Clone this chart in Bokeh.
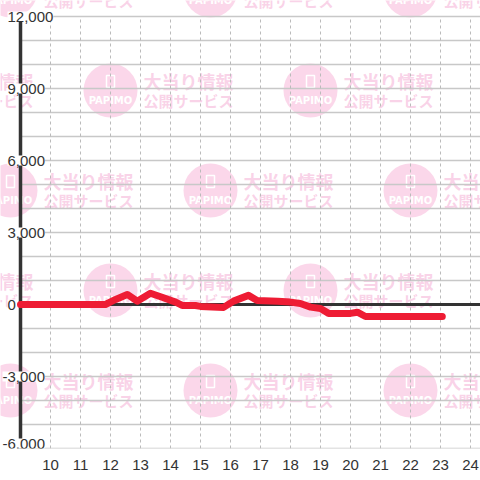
from bokeh.plotting import figure
from bokeh.models import Range1d, FixedTicker
from bokeh.core.properties import value
from bokeh.embed import file_html
from bokeh.resources import INLINE

# ---- data ----
hours = [9.0, 11.83, 12.17, 12.56, 12.89, 13.33, 13.72, 14.17, 14.39, 14.83, 15.0,
         15.77, 16.1, 16.6, 16.89, 17.57, 18.0, 18.33, 18.67, 19.0, 19.27, 20.0,
         20.23, 20.5, 23.06]
diff = [0, 0, 210, 420, 140, 470, 300, 100, -40, -40, -80,
        -120, 140, 380, 170, 140, 100, 40, -110, -170, -370, -370,
        -320, -500, -500]
x_ticks = list(range(10, 25))
y_ticks = [-6000, -3000, 0, 3000, 6000, 9000, 12000]
y_grid = list(range(-6000, 12001, 1000))
y_labels = [f"{v:,}" for v in y_ticks]
wm_line1 = "大当り情報"
wm_line2 = "公開サービス"
wm_brand = "PAPIMO"

# ---- layout (page pixels -> data) ----
W, H = 480, 480
X0, X1 = 9 - 20 / 30.0, 9 - 20 / 30.0 + 480 / 30.0
Y0, Y1 = -6000, -6000 + 448 / 0.024

def px2x(px):
    return X0 + px / 30.0

def py2y(py):
    return Y0 + (448 - py) / 0.024

p = figure(width=W, height=H, x_range=Range1d(X0, X1), y_range=Range1d(Y0, Y1),
           min_border_left=0, min_border_right=0, min_border_top=0, min_border_bottom=32,
           y_axis_location=None, output_backend="svg", toolbar_location=None)
p.outline_line_color = None
p.background_fill_color = "white"
p.border_fill_color = "white"
p.xgrid.visible = False
p.ygrid.visible = False

# ---- watermark ----
cxs, cys = [], []
for j, cy in enumerate([-10, 90, 190, 290, 390, 490]):
    off = 0 if j % 2 == 0 else 100
    for k in range(-1, 3):
        cxs.append(10 + off + 200 * k)
        cys.append(cy)
wx = [px2x(c) for c in cxs]
wy = [py2y(c) for c in cys]
p.scatter(wx, wy, marker="circle", size=54, fill_color="#f7b6d8", fill_alpha=0.55, line_color=None)
p.rect([px2x(c) for c in cxs], [py2y(c - 9) for c in cys], width=8, height=12,
       width_units="screen", height_units="screen", fill_color=None,
       line_color="white", line_width=1.5)
p.text([px2x(c) for c in cxs], [py2y(c + 10) for c in cys], text=[wm_brand] * len(cxs),
       text_font=value("DejaVu Sans"), text_font_size="10px", text_font_style="bold",
       text_color="white", text_align="center", text_baseline="middle")
p.text([px2x(c + 33) for c in cxs], [py2y(c - 9.5) for c in cys], text=[wm_line1] * len(cxs),
       text_font=value("Noto Sans CJK JP"), text_font_size="18px", text_font_style="bold",
       text_color="#f5aed4", text_alpha=0.55, text_align="left", text_baseline="middle")
p.text([px2x(c + 33) for c in cxs], [py2y(c + 9.5) for c in cys], text=[wm_line2] * len(cxs),
       text_font=value("Noto Sans CJK JP"), text_font_size="15px", text_font_style="bold",
       text_color="#f5aed4", text_alpha=0.55, text_align="left", text_baseline="middle")

# ---- grid ----
n = len(y_grid)
p.segment(x0=[9] * n, y0=y_grid, x1=[30] * n, y1=y_grid, line_color="#c8c8c8", line_width=1.5)
m = len(x_ticks)
p.segment(x0=x_ticks, y0=[Y0] * m, x1=x_ticks, y1=[12000] * m,
          line_color="#bbbbbb", line_width=1, line_dash="3 3")

# zero line and y-axis line
p.segment(x0=[9], y0=[0], x1=[30], y1=[0], line_color="#333333", line_width=3)
p.segment(x0=[9], y0=[Y0], x1=[9], y1=[12000], line_color="#333333", line_width=3.5)

# ---- data line ----
p.line(hours, diff, line_color="#ee1c34", line_width=7, line_join="round", line_cap="round")

# ---- y labels ----
lab_x = [px2x(2) if v < 0 else px2x(7) for v in y_ticks]
lab_dy = [-5 if v == y_ticks[0] else 0 for v in y_ticks]
p.text(lab_x, y_ticks, text=y_labels, y_offset=lab_dy,
       text_font=value("Liberation Sans"), text_font_size="15px", text_color="#333333",
       text_align="left", text_baseline="middle", background_fill_color="white")

# ---- x axis ----
ax = p.xaxis[0]
ax.ticker = FixedTicker(ticks=x_ticks)
ax.axis_line_color = None
ax.major_tick_line_color = None
ax.minor_tick_line_color = None
ax.major_label_standoff = 5
ax.major_label_text_font = "Liberation Sans"
ax.major_label_text_font_size = "15px"
ax.major_label_text_color = "#333333"

open("out.html", "w").write(file_html(p, INLINE))
